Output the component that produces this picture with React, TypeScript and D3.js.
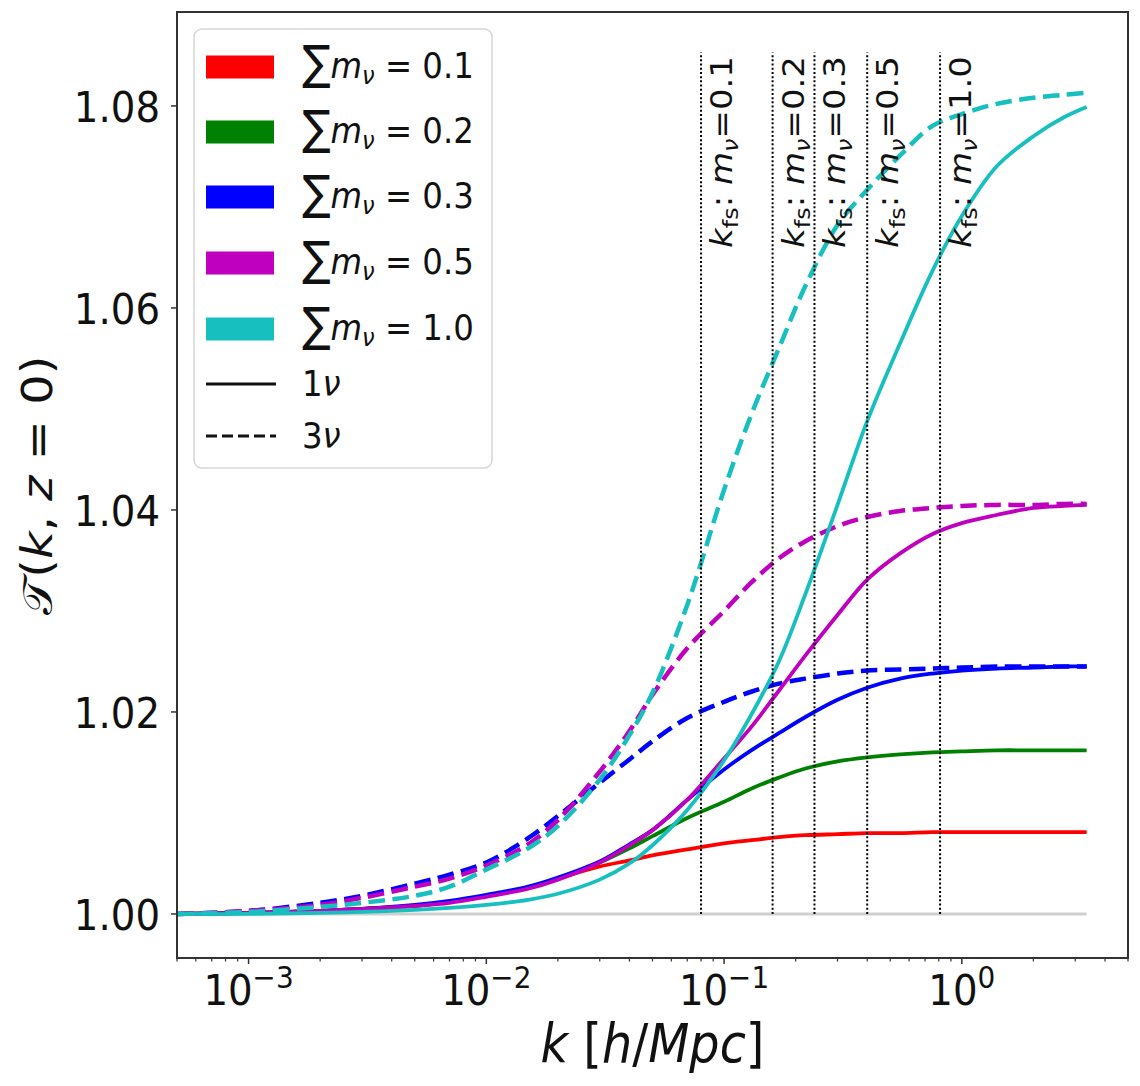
import React from 'react';
import * as d3 from 'd3';

// ---------------- data ----------------
const kGrid = [0.0005, 0.001, 0.002, 0.003, 0.005, 0.007, 0.01, 0.015, 0.02, 0.03, 0.04, 0.05, 0.07, 0.1, 0.13, 0.17, 0.22, 0.3, 0.4, 0.55, 0.75, 1.0, 1.4, 2.0, 2.7, 3.35];

const massLabels = ['0.1', '0.2', '0.3', '0.5', '1.0'];
const massColors = ['#ff0000', '#008000', '#0000ff', '#bf00bf', '#17bfbf'];

// 1 neutrino (solid)
const solid01 = [1.0000, 1.0001, 1.0003, 1.0005, 1.0008, 1.0012, 1.0018, 1.0026, 1.0035, 1.0047, 1.0053, 1.0058, 1.0064, 1.0070, 1.0073, 1.0076, 1.0078, 1.0079, 1.0080, 1.0080, 1.0081, 1.0081, 1.0081, 1.0081, 1.0081, 1.0081];
const solid02 = [1.0000, 1.0001, 1.0003, 1.0005, 1.0008, 1.0012, 1.0018, 1.0026, 1.0035, 1.0051, 1.0065, 1.0077, 1.0095, 1.0111, 1.0124, 1.0135, 1.0144, 1.0151, 1.0155, 1.0158, 1.0160, 1.0161, 1.0162, 1.0162, 1.0162, 1.0162];
const solid03 = [1.0000, 1.0001, 1.0003, 1.0005, 1.0009, 1.0013, 1.0019, 1.0027, 1.0036, 1.0052, 1.0069, 1.0083, 1.0113, 1.0143, 1.0162, 1.0179, 1.0195, 1.0212, 1.0224, 1.0233, 1.0238, 1.0241, 1.0243, 1.0244, 1.0245, 1.0245];
const solid05 = [1.0000, 1.0001, 1.0003, 1.0005, 1.0008, 1.0011, 1.0017, 1.0025, 1.0034, 1.0051, 1.0068, 1.0083, 1.0113, 1.0154, 1.0185, 1.0221, 1.0256, 1.0296, 1.0331, 1.0357, 1.0376, 1.0387, 1.0395, 1.0402, 1.0404, 1.0405];
const solid10 = [1.0000, 1.0000, 1.0001, 1.0002, 1.0004, 1.0006, 1.0009, 1.0014, 1.0020, 1.0034, 1.0050, 1.0068, 1.0103, 1.0152, 1.0197, 1.0250, 1.0317, 1.0405, 1.0488, 1.0565, 1.0636, 1.0691, 1.0740, 1.0770, 1.0789, 1.0799];

// 3 neutrinos (dashed)
const dashed03 = [1.0000, 1.0003, 1.0011, 1.0018, 1.0030, 1.0039, 1.0051, 1.0075, 1.0097, 1.0130, 1.0153, 1.0171, 1.0194, 1.0210, 1.0220, 1.0228, 1.0233, 1.0238, 1.0241, 1.0242, 1.0243, 1.0244, 1.0245, 1.0245, 1.0245, 1.0245];
const dashed05 = [1.0000, 1.0003, 1.0009, 1.0016, 1.0027, 1.0035, 1.0048, 1.0069, 1.0093, 1.0141, 1.0181, 1.0217, 1.0263, 1.0300, 1.0328, 1.0352, 1.0369, 1.0384, 1.0393, 1.0399, 1.0402, 1.0404, 1.0405, 1.0405, 1.0406, 1.0406];
const dashed10 = [1.0000, 1.0002, 1.0007, 1.0011, 1.0018, 1.0027, 1.0044, 1.0065, 1.0087, 1.0133, 1.0177, 1.0219, 1.0306, 1.0420, 1.0494, 1.0560, 1.0622, 1.0682, 1.0717, 1.0751, 1.0780, 1.0792, 1.0802, 1.0808, 1.0811, 1.0813];

// free-streaming scales
const kfsValues = [0.08, 0.16, 0.24, 0.40, 0.81];
const kfsMasses = ['0.1', '0.2', '0.3', '0.5', '1.0'];

const yTicks = [1.0, 1.02, 1.04, 1.06, 1.08];
const yTickLabels = ['1.00', '1.02', '1.04', '1.06', '1.08'];
const xTicks = [1e-3, 1e-2, 1e-1, 1e0];
const xTickExps = ['−3', '−2', '−1', '0'];

// ---------------- layout ----------------
const W = 1140;
const H = 1086;
const L = 177, R = 1128, T = 12, B = 958;
const FONT = 'DejaVu Sans, Verdana, sans-serif';

export default function App() {
  const x = d3.scaleLog().domain([5e-4, 5]).range([L, R]);
  const y = d3.scaleLinear().domain([0.99564, 1.0893]).range([B, T]);

  const line = d3
    .line<number>()
    .x((_, i) => x(kGrid[i]))
    .y((d) => y(d))
    .curve(d3.curveCatmullRom.alpha(0.5));

  const series = [
    { v: solid01, c: massColors[0], dashed: false },
    { v: solid02, c: massColors[1], dashed: false },
    { v: solid03, c: massColors[2], dashed: false },
    { v: dashed03, c: massColors[2], dashed: true },
    { v: solid05, c: massColors[3], dashed: false },
    { v: dashed05, c: massColors[3], dashed: true },
    { v: solid10, c: massColors[4], dashed: false },
    { v: dashed10, c: massColors[4], dashed: true },
  ];

  const minorTicks: number[] = [];
  for (let e = -4; e <= 0; e++) {
    for (let m = 2; m <= 9; m++) {
      const v = m * Math.pow(10, e);
      if (v >= 5e-4 - 1e-12 && v <= 5 + 1e-9) minorTicks.push(v);
    }
  }

  const baseline = kGrid.map(() => 1.0);

  const legendRows = [67, 132, 197, 263, 329];

  return (
    <svg
      width={W}
      height={H}
      viewBox={`0 0 ${W} ${H}`}
      style={{ position: 'absolute', left: 0, top: 0, background: '#fff' }}
      fontFamily={FONT}
    >
      <rect x={0} y={0} width={W} height={H} fill="#fff" />

      {/* baseline at 1 */}
      <path d={line(baseline) || ''} fill="none" stroke="#cfcfcf" strokeWidth={3} />

      {/* curves */}
      {series.map((s, i) => (
        <path
          key={i}
          d={line(s.v) || ''}
          fill="none"
          stroke={s.c}
          strokeWidth={s.dashed ? 4.5 : 3.8}
          strokeDasharray={s.dashed ? '16.5,7.5' : undefined}
        />
      ))}

      {/* k_fs vertical lines */}
      {kfsValues.map((k, i) => (
        <g key={i}>
          <line
            x1={x(k)}
            x2={x(k)}
            y1={y(1.0)}
            y2={y(1.0853)}
            stroke="#000"
            strokeWidth={2}
            strokeDasharray="2,2.2"
          />
          <text
            transform={`translate(${x(k) + 31},248) rotate(-90) scale(1,0.9)`}
            fontSize={34}
            fill="#111"
          >
            <tspan fontStyle="italic">k</tspan>
            <tspan fontSize={24} dy={7}>fs</tspan>
            <tspan dy={-7}>: </tspan>
            <tspan fontStyle="italic">m</tspan>
            <tspan fontSize={24} fontStyle="italic" dy={7}>ν</tspan>
            <tspan dy={-7}>={kfsMasses[i]}</tspan>
          </text>
        </g>
      ))}

      {/* axes frame */}
      <rect x={L} y={T} width={R - L} height={B - T} fill="none" stroke="#333" strokeWidth={2} />

      {/* y ticks */}
      {yTicks.map((t, i) => (
        <g key={i}>
          <line x1={L - 6} x2={L} y1={y(t)} y2={y(t)} stroke="#333" strokeWidth={1.5} />
          <text
            transform={`translate(${L - 17},${y(t) + 16}) scale(0.9,1)`}
            textAnchor="end"
            fontSize={43}
            fill="#111"
          >
            {yTickLabels[i]}
          </text>
        </g>
      ))}

      {/* x ticks */}
      {minorTicks.map((t, i) => (
        <line key={'m' + i} x1={x(t)} x2={x(t)} y1={B} y2={B + 3.5} stroke="#333" strokeWidth={1.2} />
      ))}
      {xTicks.map((t, i) => (
        <g key={i}>
          <line x1={x(t)} x2={x(t)} y1={B} y2={B + 6} stroke="#333" strokeWidth={1.5} />
          <text
            transform={`translate(${x(t)},1005) scale(0.9,1)`}
            textAnchor="middle"
            fontSize={43}
            fill="#111"
          >
            10
            <tspan fontSize={31} dy={-17}>{xTickExps[i]}</tspan>
          </text>
        </g>
      ))}

      {/* axis labels */}
      <text
        transform={`translate(${(L + R) / 2},1062) scale(0.9,1)`}
        textAnchor="middle"
        fontSize={53}
        fill="#111"
      >
        <tspan fontStyle="italic">k</tspan>
        <tspan> [</tspan>
        <tspan fontStyle="italic">h</tspan>
        <tspan>/</tspan>
        <tspan fontStyle="italic">Mpc</tspan>
        <tspan>]</tspan>
      </text>
      <text
        transform={`translate(52,${(T + B) / 2}) rotate(-90) scale(1,0.9)`}
        textAnchor="middle"
        fontSize={48}
        fill="#111"
      >
        <tspan>𝒯</tspan>
        <tspan>(</tspan>
        <tspan fontStyle="italic">k</tspan>
        <tspan>, </tspan>
        <tspan fontStyle="italic">z</tspan>
        <tspan> = 0)</tspan>
      </text>

      {/* legend */}
      <rect x={194} y={29} width={298} height={439} rx={8} fill="#fff" fillOpacity={0.85} stroke="#d6d6d6" strokeWidth={1.5} />
      {massLabels.map((m, i) => (
        <g key={i}>
          <rect x={206} y={legendRows[i] - 11.5} width={68} height={23} fill={massColors[i]} />
          <text transform={`translate(302,${legendRows[i] + 11}) scale(0.9,1)`} fontSize={36} fill="#111">
            <tspan fontSize={47} dy={1}>∑</tspan>
            <tspan fontStyle="italic" dy={-1}>m</tspan>
            <tspan fontSize={25} fontStyle="italic" dy={6}>ν</tspan>
            <tspan dy={-6}> = {m}</tspan>
          </text>
        </g>
      ))}
      <line x1={206} x2={276} y1={384} y2={384} stroke="#111" strokeWidth={3} />
      <text transform={`translate(302,${384 + 12}) scale(0.9,1)`} fontSize={36} fill="#111">
        1<tspan fontStyle="italic">ν</tspan>
      </text>
      <line x1={206} x2={276} y1={436} y2={436} stroke="#111" strokeWidth={3} strokeDasharray="11,5" />
      <text transform={`translate(302,${436 + 12}) scale(0.9,1)`} fontSize={36} fill="#111">
        3<tspan fontStyle="italic">ν</tspan>
      </text>
    </svg>
  );
}
